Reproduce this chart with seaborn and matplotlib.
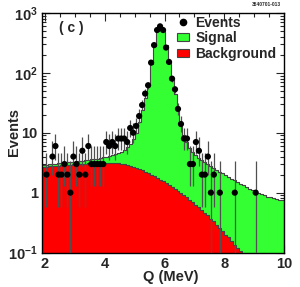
import numpy as np
import pandas as pd
import matplotlib
matplotlib.use('Agg')
import matplotlib.pyplot as plt
import seaborn as sns
from matplotlib.lines import Line2D
from matplotlib.patches import Patch
from matplotlib.ticker import MultipleLocator, LogLocator, NullFormatter

# 0.1 MeV bins from 1.9 to 10.0 (centres 1.95 ... 9.95)
edges = np.round(np.arange(1.9, 10.05, 0.1), 2)
centers = edges[:-1] + 0.05

events = np.array([
    0, 2, 0, 4, 6, 2, 2, 3, 2, 1,            # 1.95 - 2.85
    4, 3, 2, 5, 2, 6, 3, 3, 3, 3,            # 2.95 - 3.85
    3, 7, 6, 7, 6, 8, 8, 8, 7, 12,           # 3.95 - 4.85
    10, 13, 19, 29, 45, 62, 148, 290, 518, 597,  # 4.95 - 5.85
    518, 264, 152, 80, 53, 25, 14, 8, 8, 3,  # 5.95 - 6.85
    3, 7, 5, 2, 2, 4, 1, 2, 0, 1,            # 6.95 - 7.85
    0, 0, 0, 0, 1, 0, 0, 0, 0, 0,            # 7.95 - 8.85
    0, 1, 0, 0, 0, 0, 0, 0, 0, 0,            # 8.95 - 9.85
    0])

# signal + background (top of the green area)
total = np.array([
    2.90, 2.93, 2.97, 3.01, 3.05, 3.09, 3.13, 3.17, 3.21, 3.25,
    3.29, 3.33, 3.37, 3.42, 3.47, 3.52, 3.58, 3.64, 3.71, 3.79,
    3.88, 3.98, 4.10, 4.24, 4.40, 4.60, 4.85, 5.2, 5.7, 6.5,
    7.8, 10, 15, 24, 38, 68, 140, 285, 490, 590,
    500, 290, 150, 82, 45, 24, 13, 9, 7, 5.6,
    4.8, 4.2, 3.8, 3.5, 3.2, 3.0, 2.8, 2.6, 2.4, 2.25,
    2.1, 1.95, 1.8, 1.7, 1.6, 1.5, 1.4, 1.32, 1.24, 1.16,
    1.1, 1.04, 0.98, 0.94, 0.9, 0.86, 0.83, 0.8, 0.78, 0.76,
    0.74])

background = np.array([
    2.70, 2.72, 2.75, 2.78, 2.80, 2.83, 2.86, 2.88, 2.91, 2.93,
    2.96, 2.98, 3.00, 3.03, 3.05, 3.07, 3.09, 3.11, 3.13, 3.14,
    3.15, 3.16, 3.16, 3.15, 3.13, 3.10, 3.05, 2.99, 2.91, 2.82,
    2.72, 2.61, 2.49, 2.37, 2.25, 2.12, 2.00, 1.88, 1.76, 1.65,
    1.54, 1.44, 1.34, 1.24, 1.15, 1.06, 0.98, 0.90, 0.83, 0.76,
    0.69, 0.63, 0.57, 0.52, 0.46, 0.42, 0.37, 0.33, 0.29, 0.26,
    0.23, 0.20, 0.18, 0.155, 0.135, 0.12, 0.105, 0.092, 0.08, 0.07,
    0.06, 0.05, 0.045, 0.04, 0.035, 0.03, 0.027, 0.024, 0.021, 0.019,
    0.017])

ytick_vals = [0.1, 1, 10, 100, 1000]
ytick_labels = ['$10^{-1}$', '1', '10', '$10^{2}$', '$10^{3}$']

df = pd.DataFrame({'Q': centers, 'total': total, 'background': background,
                   'events': events})

sns.set_style('ticks')
plt.rcParams['font.family'] = ['Liberation Sans', 'DejaVu Sans']
plt.rcParams['font.weight'] = 'bold'
plt.rcParams['mathtext.fontset'] = 'custom'
plt.rcParams['mathtext.rm'] = 'Liberation Sans:bold'
plt.rcParams['mathtext.bf'] = 'Liberation Sans:bold'
plt.rcParams['mathtext.default'] = 'rm'

fig = plt.figure(figsize=(3.0, 2.87), dpi=100)
ax = fig.add_axes([0.14, 0.12, 0.807, 0.835])

sns.histplot(data=df, x='Q', weights='total', bins=list(edges), element='step',
             fill=True, color='#33ff33', alpha=1, edgecolor='#444444',
             linewidth=0.8, ax=ax)
sns.histplot(data=df, x='Q', weights='background', bins=list(edges),
             element='step', fill=True, color='#ff0000', alpha=1,
             edgecolor='#444444', linewidth=0.8, ax=ax)

# events with error bars
ev = df[df['events'] > 0]
n = ev['events'].to_numpy(dtype=float)
lo = n - np.clip(n - np.sqrt(n), 1e-3, None)
hi = np.sqrt(n + 0.75) + 1
ax.errorbar(ev['Q'], n, yerr=[lo, hi], fmt='none', ecolor='#505050',
            elinewidth=0.9, zorder=4)
sns.scatterplot(data=ev, x='Q', y='events', color='black', s=20,
                edgecolor='none', ax=ax, zorder=5)

ax.set_yscale('log')
ax.set_ylim(0.1, 1000)
ax.set_xlim(1.9, 10)
ax.set_xlabel('')
ax.set_ylabel('')

ax.set_xticks([2, 4, 6, 8, 10])
ax.xaxis.set_minor_locator(MultipleLocator(0.5))
ax.set_yticks(ytick_vals, labels=ytick_labels)
ax.yaxis.set_minor_locator(LogLocator(base=10, subs=np.arange(2, 10)))
ax.yaxis.set_minor_formatter(NullFormatter())
ax.tick_params(which='both', direction='in', top=True, right=True, width=0.8)
ax.tick_params(which='major', length=6, labelsize=10.5, pad=3)
ax.tick_params(which='minor', length=3)
for s in ax.spines.values():
    s.set_linewidth(1.0)
    s.set_color('black')

handles = [Line2D([], [], marker='o', ls='none', color='black', markersize=4.5),
           Patch(facecolor='#33ff33', edgecolor='#444444', linewidth=0.8),
           Patch(facecolor='#ff0000', edgecolor='#444444', linewidth=0.8)]
ax.legend(handles, ['Events', 'Signal', 'Background'], loc='upper right',
          frameon=False, fontsize=10, handlelength=0.9, handleheight=0.5,
          handletextpad=0.45, labelspacing=0.1, borderaxespad=0.15,
          bbox_to_anchor=(1.0, 1.02))

ax.text(0.07, 0.935, '( c )', transform=ax.transAxes, fontsize=10,
        fontweight='bold', va='center', ha='left')
fig.text(14 / 300, 1 - 132 / 287, 'Events', rotation=90, fontsize=10.5,
         fontweight='bold', ha='center', va='center')
fig.text(171 / 300, 1 - 277 / 287, 'Q (MeV)', fontsize=10.5,
         fontweight='bold', ha='center', va='center')
fig.text(281 / 300, 1 - 5 / 287, '3540701-013', fontsize=3.5,
         fontweight='bold', ha='right', va='center')

fig.savefig('out.png', dpi=100)
